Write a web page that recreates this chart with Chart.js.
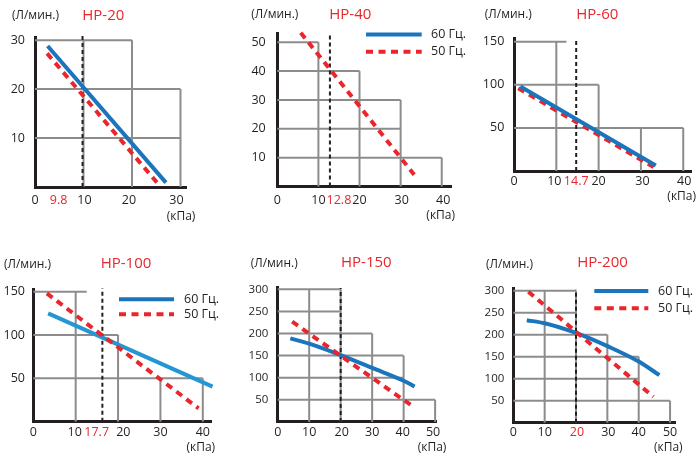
<!DOCTYPE html>
<html><head><meta charset="utf-8">
<script src="https://cdn.jsdelivr.net/npm/chart.js@4.4.1/dist/chart.umd.min.js"></script>
<style>
html,body{margin:0;padding:0;background:#fff;width:700px;height:457px;overflow:hidden}
canvas{position:absolute;left:0;top:0}
</style></head>
<body>
<canvas id="c0" width="700" height="457"></canvas>
<canvas id="c1" width="700" height="457"></canvas>
<canvas id="c2" width="700" height="457"></canvas>
<canvas id="c3" width="700" height="457"></canvas>
<canvas id="c4" width="700" height="457"></canvas>
<canvas id="c5" width="700" height="457"></canvas>
<script>
// ---------- DATA ----------
const models = ['HP-20', 'HP-40', 'HP-60', 'HP-100', 'HP-150', 'HP-200'];
const yUnit = '(Л/мин.)';
const xUnit = '(кПа)';
const legend60 = '60 Гц.';
const legend50 = '50 Гц.';

// operating point marker (vertical dashed line) and its label
const markerX = [9.8, 12.8, 14.7, 16.3, 20, 20];
const markerTop = [31, 53.4, 153, 154, 303, 303];
const markerLabel = ['9.8', '12.8', '14.7', '17.7', '20', '20'];

// 60 Hz curves (blue), [kPa, L/min]
const blue60 = [
  [[2.6, 28.8], [27.0, 0.9]],
  [],
  [[1.5, 98], [33.5, 6.5]],
  [[3.5, 125], [42.3, 40.4]],
  [[4, 189], [10, 177], [20, 151], [30, 122], [40, 93], [43.5, 80]],
  [[4.3, 233], [10, 226], [20, 204], [30, 174], [40, 139], [46.6, 108]]
];
// 50 Hz curves (red dashed)
const red50 = [
  [[2.5, 27.3], [25.5, 0.5]],
  [[5.7, 53.3], [33.3, 4.1]],
  [[1.0, 96], [33.0, 4.5]],
  [[3.2, 148], [39.0, 15.4]],
  [[4.6, 226.7], [42.6, 36.7]],
  [[4.8, 297.7], [44.7, 59]]
];

// tick values
const xTicks = [
  [0, 10, 20, 30],
  [0, 10, 20, 30, 40],
  [0, 10, 20, 30, 40],
  [0, 10, 20, 30, 40],
  [0, 10, 20, 30, 40, 50],
  [0, 10, 20, 30, 40, 50]
];
const yTicks = [
  [10, 20, 30],
  [10, 20, 30, 40, 50],
  [50, 100, 150],
  [50, 100, 150],
  [50, 100, 150, 200, 250, 300],
  [50, 100, 150, 200, 250, 300]
];

// stepped grid: horizontal [y, xEnd], vertical [x, yEnd]
const gridH = [
  [[30, 20], [20, 30], [10, 30]],
  [[50, 10], [40, 20], [30, 30], [20, 30], [10, 40]],
  [[150, 12.4], [100, 20], [50, 40]],
  [[150, 12.6], [100, 20], [50, 40]],
  [[300, 20], [250, 20], [200, 30], [150, 40], [100, 40], [50, 50]],
  [[300, 20], [250, 20], [200, 30], [150, 40], [100, 40], [50, 50]]
];
const gridV = [
  [[10, 30], [20, 30], [30, 20]],
  [[10, 50], [20, 40], [30, 30], [40, 10]],
  [[10, 150], [20, 100], [30, 50], [40, 50]],
  [[10, 150], [20, 100], [30, 50], [40, 50]],
  [[10, 300], [20, 300], [30, 200], [40, 150], [50, 50]],
  [[10, 300], [20, 300], [30, 200], [40, 150], [50, 50]]
];
const axisMaxX = [31.3, 42.4, 42, 42.1, 50.6, 51.8];
const axisMaxY = [30.5, 53.1, 154, 152.7, 303.6, 305.5];
const markerLabelRed = [true, true, true, true, false, true];
const hasLegend = [false, true, false, true, false, true];

// ---------- LAYOUT / STYLE ----------
const frames = [
  {l: 35, r: 186.8, t: 37.7, b: 187},
  {l: 277.3, r: 451.6, t: 33.3, b: 186.5},
  {l: 514, r: 691.7, t: 38.3, b: 171},
  {l: 33.3, r: 211.7, t: 289.3, b: 421.7},
  {l: 277.7, r: 437, t: 287.7, b: 421.9},
  {l: 513.3, r: 675.7, t: 288.3, b: 422.7}
];
// x label horizontal nudges (px), per tick; marker label nudge separately
const xNudge = [
  [0, 1, -3, -4],
  [0, 0, 0, 1, 1.5],
  [0, -2, 0, 1.5, 1],
  [0, -1, 5.3, 0, 0],
  [0, 0, 1, 0, -1, -2],
  [0, 0, 1, 1, 0, 0]
];
const markerNudge = [-24, 9, 0, -5.7, 1, 1];
const xLabelY = [200, 200, 181.7, 432.7, 432.7, 432.7];
const yLabelRight = [25, 265.7, 504.3, 25, 268.3, 504.3];
const titlePos = [[103.3, 16], [350.3, 15], [597.3, 15], [126, 263.5], [366.3, 262.7], [602.5, 263]];
const yUnitPos = [[35.5, 16], [274.8, 15], [508.3, 15], [27.5, 265], [274.2, 264], [509.5, 265]];
const xUnitPos = [[181, 217], [440.7, 216], [681.7, 196.7], [200.8, 447.3], [432, 447.3], [668.3, 447.3]];
const legendPos = [null, {x1: 366, x2: 421.7, yb: 34.5, yr: 51.7, tx: 431},
  null, {x1: 119, x2: 174, yb: 299.3, yr: 314.3, tx: 184},
  null, {x1: 594.3, x2: 648.3, yb: 291, yr: 308.3, tx: 658}];
const blueColors = ['#1b75bc', '#1b75bc', '#1b75bc', '#2596d4', '#1b75bc', '#1b75bc'];

const INK = '#231f20';
const RED = '#e8262b';
const GRID = '#8c8c8c';
const FONT = '"Open Sans", "Noto Sans", sans-serif';

const textPlugin = {
  id: 'panelTexts',
  afterDraw(chart, args, opts) {
    const i = opts.idx;
    const ctx = chart.ctx;
    const xs = chart.scales.x, ys = chart.scales.y;
    ctx.save();
    ctx.textBaseline = 'middle';
    // y tick labels
    ctx.fillStyle = INK;
    ctx.font = (i >= 4 ? '11.5px ' : '12.5px ') + FONT;
    ctx.textAlign = 'right';
    yTicks[i].forEach(v => ctx.fillText(String(v), yLabelRight[i], ys.getPixelForValue(v)));
    // x tick labels
    ctx.font = '12.5px ' + FONT;
    ctx.textAlign = 'center';
    xTicks[i].forEach((v, k) => {
      if (v === markerX[i] && markerLabelRed[i]) return;
      ctx.fillStyle = INK;
      ctx.fillText(String(v), xs.getPixelForValue(v) + xNudge[i][k], xLabelY[i]);
    });
    if (markerLabelRed[i]) {
      ctx.fillStyle = RED;
      ctx.fillText(markerLabel[i], xs.getPixelForValue(markerX[i]) + markerNudge[i], xLabelY[i]);
    }
    // units
    ctx.fillStyle = INK;
    ctx.font = '12px ' + FONT;
    ctx.fillText(xUnit, xUnitPos[i][0], xUnitPos[i][1]);
    ctx.fillText(yUnit, yUnitPos[i][0], yUnitPos[i][1]);
    // title
    ctx.fillStyle = RED;
    ctx.font = '15px ' + FONT;
    ctx.fillText(models[i], titlePos[i][0], titlePos[i][1]);
    // legend
    const lg = legendPos[i];
    if (hasLegend[i] && lg) {
      ctx.lineCap = 'butt';
      ctx.lineWidth = 4;
      ctx.strokeStyle = '#1b75bc';
      ctx.setLineDash([]);
      ctx.beginPath(); ctx.moveTo(lg.x1, lg.yb); ctx.lineTo(lg.x2, lg.yb); ctx.stroke();
      ctx.strokeStyle = RED;
      ctx.setLineDash([7, 5.5]);
      ctx.beginPath(); ctx.moveTo(lg.x1, lg.yr); ctx.lineTo(lg.x2, lg.yr); ctx.stroke();
      ctx.setLineDash([]);
      ctx.fillStyle = INK;
      ctx.font = '12.5px ' + FONT;
      ctx.textAlign = 'left';
      ctx.fillText(legend60, lg.tx, lg.yb);
      ctx.fillText(legend50, lg.tx, lg.yr);
    }
    ctx.restore();
  }
};

function line(pts, color, width, dash, order, curved) {
  return {
    data: pts.map(([x, y]) => ({x, y})),
    showLine: true, borderColor: color, borderWidth: width, borderDash: dash,
    pointRadius: 0, fill: false, clip: false, order: order,
    borderCapStyle: 'butt',
    cubicInterpolationMode: curved ? 'monotone' : 'default', tension: 0
  };
}

for (let i = 0; i < 6; i++) {
  const f = frames[i];
  const ds = [];
  if (blue60[i].length) ds.push(line(blue60[i], blueColors[i], 4, [], i === 2 ? 0 : 1, blue60[i].length > 2));
  ds.push(line(red50[i], RED, 4, [7, 5.5], i === 2 ? 1 : 0, false));
  ds.push(line([[markerX[i], 0], [markerX[i], markerTop[i]]], INK, 2, [4, 3], 2, false));
  gridH[i].forEach(([y, xe]) => ds.push(line([[0, y], [xe, y]], GRID, 2, [], 5, false)));
  gridV[i].forEach(([x, ye]) => ds.push(line([[x, 0], [x, ye]], GRID, 2, [], 5, false)));

  new Chart(document.getElementById('c' + i), {
    type: 'scatter',
    data: {datasets: ds},
    options: {
      responsive: false, animation: false, events: [],
      layout: {autoPadding: false, padding: {left: f.l, right: 700 - f.r, top: f.t, bottom: 457 - f.b}},
      plugins: {legend: {display: false}, tooltip: {enabled: false}, panelTexts: {idx: i}},
      scales: {
        x: {type: 'linear', min: 0, max: axisMaxX[i],
            ticks: {display: false}, grid: {display: false, drawTicks: false},
            border: {display: true, color: INK, width: 3}},
        y: {type: 'linear', min: 0, max: axisMaxY[i],
            ticks: {display: false}, grid: {display: false, drawTicks: false},
            border: {display: true, color: INK, width: 3}}
      }
    },
    plugins: [textPlugin]
  });
}
</script>
</body></html>
